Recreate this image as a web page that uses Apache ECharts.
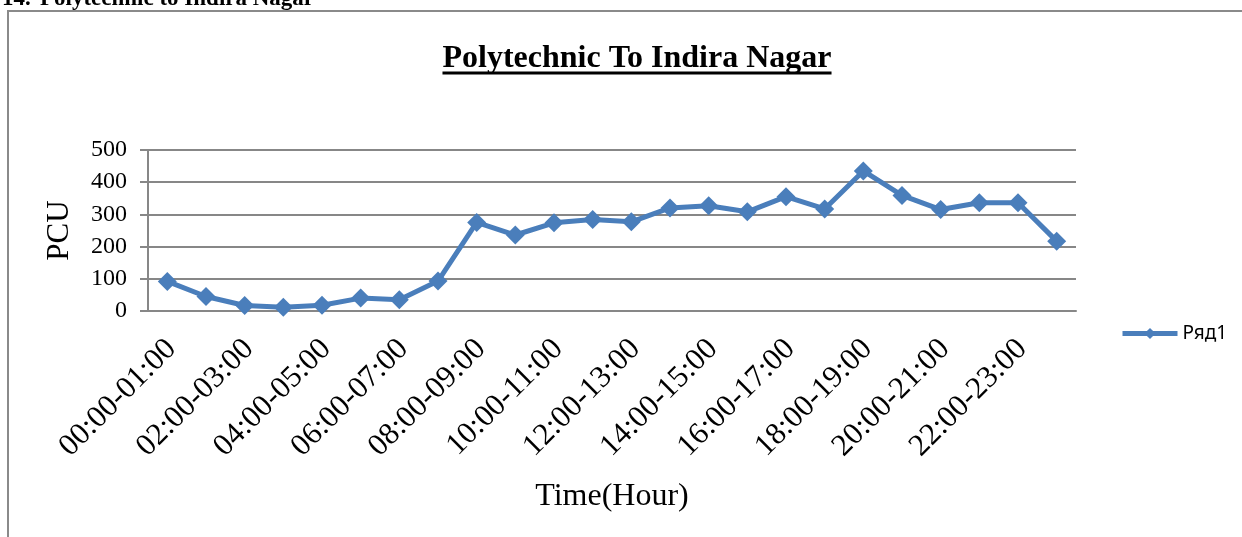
<!DOCTYPE html>
<html>
<head>
<meta charset="utf-8">
<script src="https://cdn.jsdelivr.net/npm/echarts@6/dist/echarts.min.js"></script>
<style>
  html, body { margin: 0; padding: 0; background: #fff; }
  #chart { width: 1242px; height: 537px; }
</style>
</head>
<body>
<div id="chart"></div>
<script>
// hourly slots (every other label shown on the axis)
const hours = [
  "00:00-01:00", "01:00-02:00", "02:00-03:00", "03:00-04:00",
  "04:00-05:00", "05:00-06:00", "06:00-07:00", "07:00-08:00",
  "08:00-09:00", "09:00-10:00", "10:00-11:00", "11:00-12:00",
  "12:00-13:00", "13:00-14:00", "14:00-15:00", "15:00-16:00",
  "16:00-17:00", "17:00-18:00", "18:00-19:00", "19:00-20:00",
  "20:00-21:00", "21:00-22:00", "22:00-23:00", "23:00-24:00"
];
// PCU values, Ряд1
const pcu = [
  92, 45, 17, 12, 18, 40, 35, 93,
  275, 236, 274, 284, 277, 320, 327, 308,
  355, 317, 435, 359, 315, 336, 336, 217
];
const yTicks = [0, 100, 200, 300, 400, 500];

const serif = "'Liberation Serif', 'Times New Roman', serif";
const titleText = "Polytechnic To Indira Nagar";
const titleFont = "bold 32px " + serif;

// width of the title, so the underline matches it
const measure = document.createElement("canvas").getContext("2d");
measure.font = titleFont;
const titleW = measure.measureText(titleText).width;
const titleX = 637;

const chart = echarts.init(document.getElementById("chart"));
const option = {
  animation: false,
  backgroundColor: "#fff",
  grid: { left: 148, right: 166, top: 150, bottom: 226 },
  graphic: [
    {
      type: "rect",
      shape: { x: 8, y: 11, width: 1400, height: 700 },
      style: { fill: "none", stroke: "#8a8a8a", lineWidth: 2 }
    },
    {
      type: "text",
      style: { text: "14.", x: 2, y: -1, font: "bold 23px " + serif, fill: "#000", verticalAlign: "middle" }
    },
    {
      type: "text",
      style: { text: "Polytechnic to Indira Nagar", x: 40, y: -1, font: "bold 23px " + serif, fill: "#000", verticalAlign: "middle" }
    },
    {
      type: "text",
      style: { text: titleText, x: titleX, y: 59, font: titleFont, fill: "#000", align: "center", verticalAlign: "middle" }
    },
    {
      type: "line",
      shape: { x1: titleX - titleW / 2, y1: 73, x2: titleX + titleW / 2, y2: 73 },
      style: { stroke: "#000", lineWidth: 3 }
    }
  ],
  legend: {
    data: ["Ряд1"],
    left: 1120,
    top: 324,
    padding: 0,
    itemWidth: 55,
    itemHeight: 14,
    itemGap: 6,
    lineStyle: { width: 5 },
    textStyle: { fontSize: 19, fontFamily: "'Noto Sans', sans-serif", color: "#000" }
  },
  xAxis: {
    type: "category",
    data: hours,
    boundaryGap: true,
    name: "Time(Hour)",
    nameLocation: "middle",
    nameGap: 170,
    nameTextStyle: { fontSize: 32, fontFamily: serif, color: "#000", verticalAlign: "top" },
    axisLine: { lineStyle: { color: "#878787", width: 2 } },
    axisTick: { show: false },
    axisLabel: {
      interval: 1,
      rotate: 45,
      margin: 29,
      fontSize: 31,
      lineHeight: 12,
      fontFamily: serif,
      color: "#000",
      verticalAlign: "top"
    }
  },
  yAxis: {
    type: "value",
    min: 0,
    max: 500,
    interval: 100,
    name: "PCU",
    nameLocation: "middle",
    nameGap: 73,
    nameTextStyle: { fontSize: 31, fontFamily: serif, color: "#000" },
    axisLine: { show: true, lineStyle: { color: "#878787", width: 2 } },
    axisTick: { show: true, length: 8, lineStyle: { color: "#878787", width: 2 } },
    axisLabel: {
      margin: 21,
      fontSize: 24,
      fontFamily: serif,
      color: "#000",
      padding: [4, 0, 0, 0],
      formatter: (v) => (yTicks.includes(v) ? String(v) : "")
    },
    splitLine: { lineStyle: { color: "#878787", width: 2 } }
  },
  series: [
    {
      name: "Ряд1",
      type: "line",
      data: pcu,
      symbol: "diamond",
      symbolSize: 19,
      lineStyle: { color: "#4a7ebb", width: 5 },
      itemStyle: { color: "#4a7ebb" }
    }
  ]
};
chart.setOption(option);
</script>
</body>
</html>
